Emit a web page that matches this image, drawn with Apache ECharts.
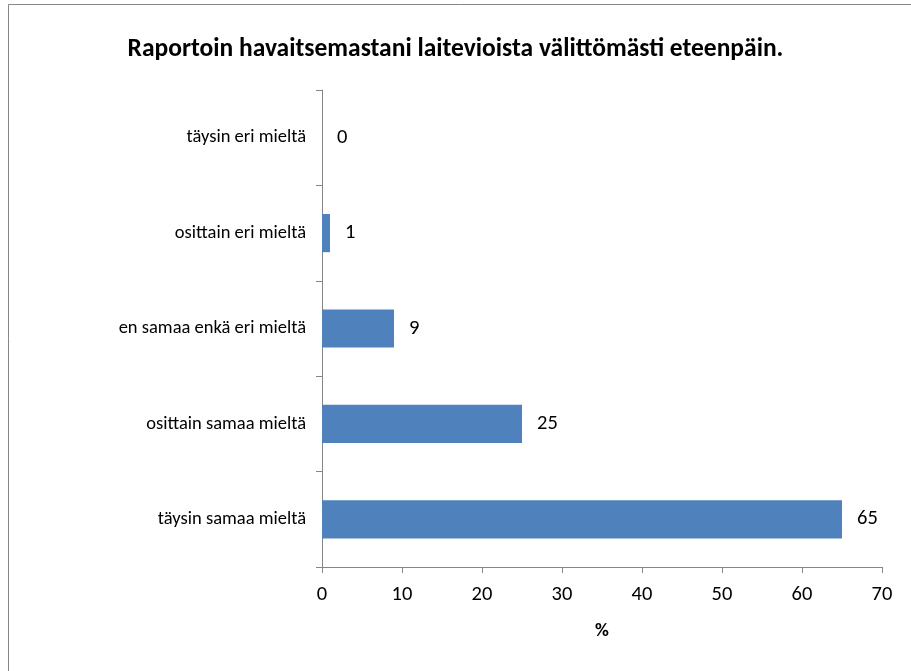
<!DOCTYPE html>
<html><head><meta charset="utf-8">
<script src="https://cdn.jsdelivr.net/npm/echarts@6/dist/echarts.min.js"></script>
<style>html,body{margin:0;padding:0;background:#fff}#c{width:911px;height:671px}</style>
</head><body><div id="c"></div>
<script>
const categories = ["täysin samaa mieltä","osittain samaa mieltä","en samaa enkä eri mieltä","osittain eri mieltä","täysin eri mieltä"];
const values = [65, 25, 9, 1, 0];
const titleText = "Raportoin havaitsemastani laitevioista välittömästi eteenpäin.";
const xAxisName = "%";
const FONT = "Carlito, 'Open Sans', 'Liberation Sans', sans-serif";
const chart = echarts.init(document.getElementById('c'));
chart.setOption({
  animation:false,
  backgroundColor:'#fff',
  graphic:[{type:'rect',shape:{x:8.5,y:4.5,width:1000,height:1000},style:{fill:'none',stroke:'#868686',lineWidth:1}}],
  title:{text:titleText,left:'center',top:32,textStyle:{fontFamily:FONT,fontSize:25.5,fontWeight:'bold',color:'#000'}},
  grid:{left:322,right:29,top:90,bottom:104},
  xAxis:{type:'value',min:0,max:70,interval:10,name:xAxisName,nameLocation:'middle',nameGap:55,
    nameTextStyle:{fontFamily:FONT,fontSize:19,fontWeight:'bold',color:'#000'},
    axisLine:{show:true,lineStyle:{color:'#868686'}},axisTick:{show:true,length:6,lineStyle:{color:'#868686'}},
    axisLabel:{fontFamily:FONT,fontSize:20.5,color:'#000',margin:17},splitLine:{show:false}},
  yAxis:{type:'category',data:categories,
    axisLine:{show:true,lineStyle:{color:'#868686'}},axisTick:{show:true,length:6,lineStyle:{color:'#868686'}},
    axisLabel:{fontFamily:FONT,fontSize:18.5,color:'#000',margin:16}},
  series:[{type:'bar',data:values,barWidth:'40%',itemStyle:{color:'#4F81BD'},
    label:{show:true,position:'right',distance:15,fontFamily:FONT,fontSize:20.5,color:'#000'}}]
});
</script></body></html>
